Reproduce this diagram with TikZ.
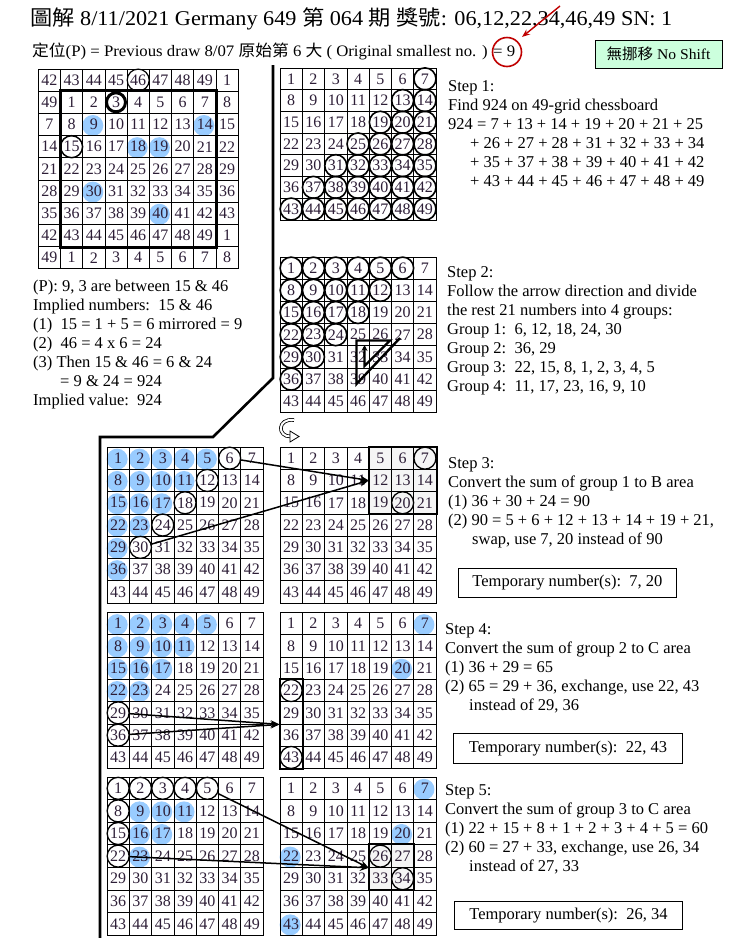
\documentclass[tikz,border=0pt]{standalone}
\usepackage{graphicx}
\usepackage{fontspec}
\setmainfont{Liberation Serif}
\newfontfamily\cjk{Noto Sans CJK TC}
\usetikzlibrary{arrows.meta,backgrounds}
\definecolor{bluef}{RGB}{153,204,255}
\definecolor{numc}{RGB}{45,30,55}
\definecolor{redc}{RGB}{192,0,0}
\definecolor{mint}{RGB}{204,255,221}
\newcommand{\sgrid}[4]{%
 \foreach \rr in {0,...,6}{\foreach \cc in {0,...,6}{%
  \pgfmathtruncatemacro{\nn}{\rr*7+\cc+1}%
  \node[cell, minimum height=#3pt] (#4-\nn) at ({#1+(\cc+0.5)*22.3},{#2+(\rr+0.5)*#3}) {\nn};
 }}}
\begin{document}
\begin{tikzpicture}[x=1pt,y=-1pt,
 cell/.style={draw, line width=0.8pt, inner sep=0pt, minimum width=22.3pt, font=\fontsize{16}{16}\selectfont, text=numc},
 ring/.style={circle, draw, line width=1.6pt, minimum size=22pt, inner sep=0pt},
 thinring/.style={circle, draw, line width=1.3pt, minimum size=22pt, inner sep=0pt},
 arr/.style={line width=1.5pt, -{Stealth[length=9pt,width=7pt]}},
 txt/.style={anchor=north west, inner sep=0pt, align=left, font=\fontsize{16.5}{19}\selectfont},
 tbox/.style={draw, line width=0.8pt, anchor=north west, font=\fontsize{16.5}{19}\selectfont},
 sep/.style={line width=2.6pt, line join=miter}]
\useasboundingbox (0,0) rectangle (741,938);

% ---------- header ----------
\node[anchor=west, inner sep=0pt] (title) at (30,19) {\resizebox{642pt}{\height}{\fontsize{21}{21}\selectfont{\cjk 圖解} 8/11/2021 Germany 649 {\cjk 第} 064 {\cjk 期} {\cjk 獎號}: 06,12,22,34,46,49 SN: 1}};
\node[anchor=west, inner sep=0pt] (posline) at (32,51) {\resizebox{483pt}{\height}{\fontsize{16}{16}\selectfont{\cjk 定位}(P) = Previous draw 8/07 {\cjk 原始第} 6 {\cjk 大} ( Original smallest no. ) = 9}};
\node[circle, draw=redc, line width=1.6pt, minimum size=29pt, inner sep=0pt] (rc) at (507,52) {};
\coordinate (ra) at (560,6);
\coordinate (rb) at (522,37);
\draw[redc, line width=1.4pt, -{Stealth[length=8pt,width=6pt]}] (ra) -- (rb);
\node[draw, fill=mint, line width=0.8pt, minimum width=127pt, minimum height=28pt, inner sep=0pt] (ns) at (658.5,54) {\resizebox{104pt}{\height}{\fontsize{15}{15}\selectfont{\cjk 無挪移} No Shift}};

% ---------- separator ----------
\coordinate (s0) at (273,65);
\coordinate (s1) at (273,378);
\coordinate (s2) at (213,437);
\coordinate (s3) at (100,437);
\coordinate (s4) at (100,938);
\draw[sep] (s0) -- (s1) -- (s2) -- (s3) -- (s4);

% ---------- top-left 9x9 grid ----------
\foreach \rr in {0,...,8}{\foreach \cc in {0,...,8}{%
  \pgfmathtruncatemacro{\vv}{mod((\rr-1)*7+(\cc-1)+49,49)+1}%
  \node[cell, minimum width=22.2pt, minimum height=22.2pt] (tl-\rr-\cc) at ({38.3+(\cc+0.5)*22.2},{69+(\rr+0.5)*22.2}) {\vv};
}}
\draw[line width=3pt] (tl-1-1.north west) rectangle (tl-7-7.south east);
\node[thinring, line width=1.2pt] (tlc46) at (tl-0-4) {};
\node[thinring, line width=3pt, minimum size=19pt] (tlc3) at (tl-1-3) {};
\node[thinring, line width=1.5pt] (tlc15) at (tl-3-1) {};

% ---------- step grids ----------
\sgrid{280}{68}{21.7}{sa}
\sgrid{280}{257}{22.2}{sb}
\sgrid{107}{447}{22.3}{scL}
\sgrid{280}{447}{22.3}{scR}
\sgrid{107}{612.5}{22.3}{sdL}
\sgrid{280}{612.5}{22.3}{sdR}
\sgrid{107}{777}{22.6}{seL}
\sgrid{280}{777}{22.6}{seR}

% ---------- blue fills (behind) ----------
\begin{pgfonlayer}{background}
\fill[white] (0,0) rectangle (741,938);
\foreach \p in {2-2,2-7,3-4,3-5,5-2,6-5} \fill[bluef] ([shift={(-1,1)}]tl-\p) circle (10.5pt);
\foreach \k in {1,2,3,4,5,8,9,10,11,15,16,17,22,23,29,36} \fill[bluef] ([shift={(-1,1)}]scL-\k) circle (10.5pt);
\foreach \k in {1,2,3,4,5,8,9,10,11,15,16,17,22,23} \fill[bluef] ([shift={(-1,1)}]sdL-\k) circle (10.5pt);
\foreach \k in {7,20} \fill[bluef] ([shift={(-1,1)}]sdR-\k) circle (10.5pt);
\foreach \k in {9,10,11,16,17,23} \fill[bluef] ([shift={(-1,1)}]seL-\k) circle (10.5pt);
\foreach \k in {7,20,22,43} \fill[bluef] ([shift={(-1,1)}]seR-\k) circle (10.5pt);
\fill[gray!8] (scR-5.north west) rectangle (scR-21.south east);
\fill[gray!8] (seR-26.north west) rectangle (seR-34.south east);
\end{pgfonlayer}

% ---------- circles ----------
\foreach \k in {7,13,14,19,20,21,25,26,27,28,31,32,33,34,35,37,38,39,40,41,42,43,44,45,46,47,48,49}
  \node[ring] (sac-\k) at (sa-\k) {};
\foreach \k in {1,2,3,4,5,6,8,9,10,11,12,15,16,17,18,22,23,24,29,30,36}
  \node[ring] (sbc-\k) at (sb-\k) {};
\foreach \k in {6,12,18,24,30} \node[thinring] (scLc-\k) at (scL-\k) {};
\foreach \k in {7,20} \node[thinring] (scRc-\k) at (scR-\k) {};
\foreach \k in {29,36} \node[thinring] (sdLc-\k) at (sdL-\k) {};
\foreach \k in {22,43} \node[thinring] (sdRc-\k) at (sdR-\k) {};
\foreach \k in {1,2,3,4,5,8,15,22} \node[thinring] (seLc-\k) at (seL-\k) {};
\foreach \k in {26,34} \node[thinring] (seRc-\k) at (seR-\k) {};

% ---------- boxes ----------
\draw[line width=2pt] (scR-5.north west) rectangle (scR-21.south east);
\draw[line width=2pt] (sdR-22.north west) rectangle (sdR-43.south east);
\draw[line width=2pt] (seR-26.north west) rectangle (seR-34.south east);

% ---------- step 2 spiral ----------
\coordinate (p1) at (400,338);
\coordinate (p2) at (356.5,384);
\coordinate (p3) at (356.5,340.5);
\coordinate (p4) at (390,340.5);
\coordinate (p5) at (364.5,366);
\coordinate (p6) at (364.5,345);
\draw[line width=2.4pt, line join=miter, -{Stealth[length=6pt,width=6pt]}] (p1) -- (p2) -- (p3) -- (p4) -- (p5) -- (p6);

% ---------- curved icon ----------
\coordinate (ca) at (294,420);
\coordinate (cb) at (291,436.5);
\draw[line width=3.6pt] (ca) .. controls (277,418) and (277,437) .. (cb);
\draw[line width=2pt, white] (ca) .. controls (277,418) and (277,437) .. (cb);
\coordinate (ct1) at (290,431);
\coordinate (ct2) at (299,436.5);
\coordinate (ct3) at (290,442);
\draw[line width=0.8pt, fill=white] (ct1) -- (ct2) -- (ct3) -- cycle;

% ---------- arrows ----------
\draw[arr] (scLc-6) -- (scR-12.west);
\draw[arr] (scLc-30) -- (scR-12.west);
\draw[arr] (sdLc-29) -- (sdR-29.south west);
\draw[arr] (sdLc-36) -- (sdR-29.south west);
\draw[arr] (seLc-5) -- (seR-26.south west);
\draw[arr] (seLc-22) -- (seR-26.south west);

% ---------- texts ----------
\node[txt] (lefttxt) at (33,278) {\strut(P): 9, 3 are between 15 \& 46\\
Implied numbers:\ \ 15 \& 46\\
(1)\ \ 15 = 1 + 5 = 6 mirrored = 9\\
(2)\ \ 46 = 4 x 6 = 24\\
(3) Then 15 \& 46 = 6 \& 24\\
\hspace*{27pt}= 9 \& 24 = 924\\
Implied value:\ \ 924};

\node[txt] (st1) at (448,78) {\strut Step 1:\\
Find 924 on 49-grid chessboard\\
924 = 7 + 13 + 14 + 19 + 20 + 21 + 25\\
\hspace*{22pt}+ 26 + 27 + 28 + 31 + 32 + 33 + 34\\
\hspace*{22pt}+ 35 + 37 + 38 + 39 + 40 + 41 + 42\\
\hspace*{22pt}+ 43 + 44 + 45 + 46 + 47 + 48 + 49};

\node[txt] (st2) at (447,264) {\strut Step 2:\\
Follow the arrow direction and divide\\
the rest 21 numbers into 4 groups:\\
Group 1:\ \ 6, 12, 18, 24, 30\\
Group 2:\ \ 36, 29\\
Group 3:\ \ 22, 15, 8, 1, 2, 3, 4, 5\\
Group 4:\ \ 11, 17, 23, 16, 9, 10};

\node[txt] (st3) at (448,455) {\strut Step 3:\\
Convert the sum of group 1 to B area\\
(1) 36 + 30 + 24 = 90\\
(2) 90 = 5 + 6 + 12 + 13 + 14 + 19 + 21,\\
\hspace*{24pt}swap, use 7, 20 instead of 90};
\node[tbox, minimum width=218pt, minimum height=29pt] (tb3) at (458,568) {Temporary number(s):\ \ 7, 20};

\node[txt] (st4) at (445,621) {\strut Step 4:\\
Convert the sum of group 2 to C area\\
(1) 36 + 29 = 65\\
(2) 65 = 29 + 36, exchange, use 22, 43\\
\hspace*{24pt}instead of 29, 36};
\node[tbox, minimum width=229pt, minimum height=30pt] (tb4) at (453,733) {Temporary number(s):\ \ 22, 43};

\node[txt] (st5) at (445,782) {\strut Step 5:\\
Convert the sum of group 3 to C area\\
(1) 22 + 15 + 8 + 1 + 2 + 3 + 4 + 5 = 60\\
(2) 60 = 27 + 33, exchange, use 26, 34\\
\hspace*{24pt}instead of 27, 33};
\node[tbox, minimum width=228pt, minimum height=28pt] (tb5) at (454,901) {Temporary number(s):\ \ 26, 34};
\end{tikzpicture}
\end{document}
